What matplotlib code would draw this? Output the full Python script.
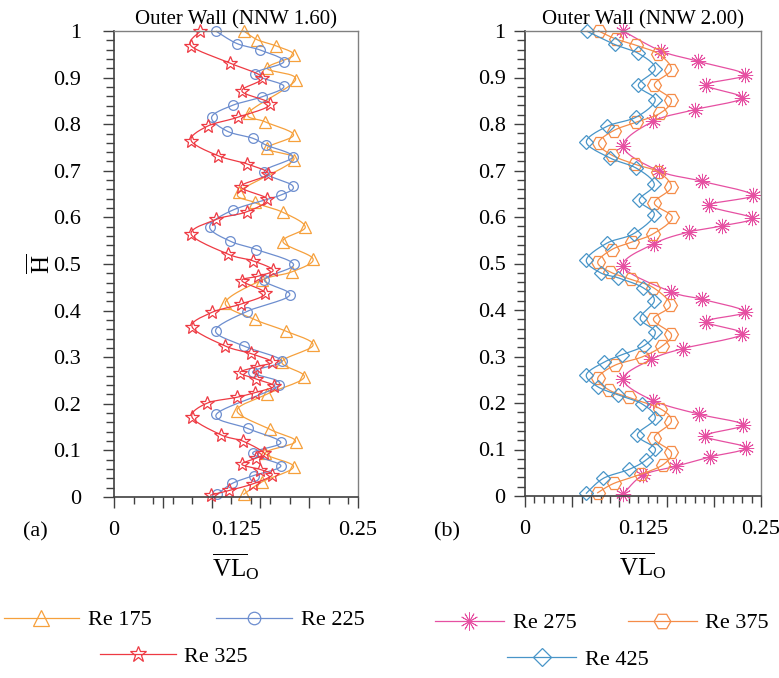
import numpy as np
import matplotlib
matplotlib.use("Agg")
import matplotlib.pyplot as plt
from matplotlib.lines import Line2D
from matplotlib.ticker import MultipleLocator

plt.rcParams["font.family"] = ["Liberation Serif", "DejaVu Serif"]
plt.rcParams["mathtext.fontset"] = "custom"
plt.rcParams["mathtext.rm"] = "Liberation Serif"
plt.rcParams["mathtext.it"] = "Liberation Serif:italic"

# Outer wall profiles, NNW 1.60 (panel a): height H vs velocity VL_O
RE175_H = [1.000, 0.981, 0.968, 0.948, 0.920, 0.895, 0.825, 0.805, 0.777, 0.748, 0.723,
           0.655, 0.632, 0.611, 0.579, 0.548, 0.511, 0.483, 0.466, 0.417, 0.381, 0.356,
           0.326, 0.290, 0.257, 0.221, 0.185, 0.145, 0.119, 0.094, 0.065, 0.033, 0.006]
RE175_V = [0.133, 0.147, 0.166, 0.184, 0.157, 0.186, 0.138, 0.155, 0.184, 0.157, 0.184,
           0.128, 0.144, 0.173, 0.196, 0.173, 0.204, 0.182, 0.152, 0.114, 0.144, 0.176,
           0.204, 0.172, 0.195, 0.157, 0.126, 0.160, 0.186, 0.155, 0.184, 0.152, 0.133]

RE225_H = [0.999, 0.973, 0.959, 0.934, 0.908, 0.882, 0.859, 0.841, 0.815, 0.785, 0.770,
           0.755, 0.730, 0.698, 0.668, 0.648, 0.616, 0.580, 0.549, 0.531, 0.499, 0.466,
           0.433, 0.398, 0.357, 0.324, 0.292, 0.268, 0.240, 0.178, 0.147, 0.117, 0.094,
           0.067, 0.046, 0.029, 0.006]
RE225_V = [0.105, 0.126, 0.150, 0.174, 0.144, 0.174, 0.152, 0.122, 0.100, 0.116, 0.142,
           0.156, 0.183, 0.154, 0.183, 0.171, 0.122, 0.098, 0.119, 0.146, 0.184, 0.154,
           0.180, 0.136, 0.104, 0.133, 0.172, 0.142, 0.169, 0.105, 0.137, 0.171, 0.142,
           0.171, 0.143, 0.121, 0.106]

RE325_H = [0.999, 0.968, 0.931, 0.900, 0.871, 0.843, 0.815, 0.796, 0.765, 0.732, 0.715,
           0.693, 0.666, 0.639, 0.612, 0.596, 0.564, 0.521, 0.507, 0.487, 0.474, 0.464,
           0.437, 0.414, 0.396, 0.365, 0.324, 0.308, 0.290, 0.280, 0.267, 0.253, 0.238,
           0.224, 0.214, 0.201, 0.171, 0.133, 0.120, 0.094, 0.083, 0.070, 0.059, 0.047,
           0.028, 0.014, 0.004]
RE325_V = [0.088, 0.079, 0.119, 0.152, 0.131, 0.160, 0.127, 0.096, 0.079, 0.107, 0.136,
           0.158, 0.130, 0.157, 0.136, 0.105, 0.079, 0.117, 0.142, 0.163, 0.148, 0.131,
           0.155, 0.130, 0.100, 0.080, 0.114, 0.140, 0.162, 0.147, 0.129, 0.146, 0.164,
           0.144, 0.126, 0.095, 0.080, 0.110, 0.132, 0.154, 0.145, 0.131, 0.150, 0.162,
           0.142, 0.118, 0.099]

# Outer wall profiles, NNW 2.00 (panel b)
RE275_H = [1.000, 0.957, 0.935, 0.906, 0.884, 0.856, 0.831, 0.806, 0.752, 0.699, 0.677,
           0.647, 0.625, 0.598, 0.581, 0.568, 0.543, 0.494, 0.439, 0.423, 0.396, 0.375,
           0.348, 0.317, 0.294, 0.251, 0.205, 0.176, 0.153, 0.129, 0.104, 0.084, 0.064,
           0.045, 0.004]
RE275_V = [0.104, 0.144, 0.183, 0.233, 0.192, 0.230, 0.180, 0.136, 0.104, 0.142, 0.187,
           0.241, 0.195, 0.240, 0.209, 0.174, 0.137, 0.104, 0.155, 0.188, 0.233, 0.192,
           0.230, 0.167, 0.134, 0.104, 0.136, 0.184, 0.231, 0.191, 0.234, 0.196, 0.160,
           0.125, 0.104]

RE375_H = [1.000, 0.983, 0.969, 0.951, 0.917, 0.884, 0.852, 0.823, 0.804, 0.786, 0.759,
           0.733, 0.713, 0.697, 0.664, 0.630, 0.599, 0.564, 0.546, 0.530, 0.503, 0.482,
           0.466, 0.448, 0.410, 0.380, 0.348, 0.322, 0.299, 0.281, 0.253, 0.228, 0.212,
           0.188, 0.160, 0.125, 0.094, 0.067, 0.047, 0.027, 0.007]
RE375_V = [0.078, 0.096, 0.118, 0.141, 0.155, 0.137, 0.155, 0.143, 0.118, 0.094, 0.078,
           0.092, 0.117, 0.141, 0.155, 0.137, 0.156, 0.136, 0.113, 0.092, 0.077, 0.090,
           0.112, 0.136, 0.154, 0.136, 0.155, 0.145, 0.124, 0.095, 0.077, 0.089, 0.110,
           0.143, 0.155, 0.137, 0.155, 0.146, 0.123, 0.094, 0.077]

RE425_H = [0.999, 0.971, 0.952, 0.919, 0.883, 0.852, 0.815, 0.795, 0.761, 0.727, 0.705,
           0.670, 0.636, 0.605, 0.564, 0.544, 0.508, 0.480, 0.469, 0.448, 0.420, 0.382,
           0.353, 0.323, 0.304, 0.288, 0.261, 0.235, 0.217, 0.198, 0.167, 0.131, 0.102,
           0.077, 0.057, 0.038, 0.006]
RE425_V = [0.066, 0.095, 0.120, 0.138, 0.120, 0.138, 0.118, 0.087, 0.065, 0.090, 0.118,
           0.137, 0.121, 0.137, 0.115, 0.087, 0.065, 0.080, 0.099, 0.125, 0.137, 0.122,
           0.138, 0.126, 0.103, 0.084, 0.065, 0.077, 0.099, 0.124, 0.138, 0.119, 0.138,
           0.128, 0.110, 0.083, 0.065]

Y_TICKS = [0, 0.1, 0.2, 0.3, 0.4, 0.5, 0.6, 0.7, 0.8, 0.9, 1.0]
Y_TICK_LABELS = ["0", "0.1", "0.2", "0.3", "0.4", "0.5", "0.6", "0.7", "0.8", "0.9", "1"]
X_TICKS = [0, 0.125, 0.25]
X_TICK_LABELS = ["0", "0.125", "0.25"]


def smooth(x, y, n=14):
    """Catmull-Rom curve through the points (like a spreadsheet smoothed line)."""
    pts = np.column_stack([x, y])
    P = np.vstack([pts[0], pts, pts[-1]])
    t = np.linspace(0, 1, n, endpoint=False)[:, None]
    out = []
    for i in range(1, len(P) - 2):
        p0, p1, p2, p3 = P[i - 1], P[i], P[i + 1], P[i + 2]
        seg = 0.5 * (2 * p1 + (-p0 + p2) * t
                     + (2 * p0 - 5 * p1 + 4 * p2 - p3) * t ** 2
                     + (-p0 + 3 * p1 - 3 * p2 + p3) * t ** 3)
        out.append(seg)
    out.append(pts[-1:])
    c = np.vstack(out)
    return c[:, 0], c[:, 1]


def draw_series(ax, v, h, color, marker, ms, mew=0.9, dot=False):
    sx, sy = smooth(v, h)
    ax.plot(sx, sy, color=color, lw=0.9, clip_on=False)
    ax.plot(v, h, ls="none", marker=marker, ms=ms, mfc="none", mec=color, mew=mew,
            clip_on=False)
    if dot:
        ax.plot(v, h, ls="none", marker="o", ms=2.5, color=color, clip_on=False)
    return Line2D([], [], color=color, lw=0.9, marker=marker, ms=ms + 2, mfc="none",
                  mec=color, mew=mew)


def style_axes(ax, x_minor, ylabel_pad):
    ax.set_xlim(0, 0.25)
    ax.set_ylim(0, 1)
    for side in ["left", "bottom"]:
        ax.spines[side].set_color("#404040")
        ax.spines[side].set_linewidth(1.2)
    for side in ["top", "right"]:
        ax.spines[side].set_color("#808080")
        ax.spines[side].set_linewidth(1.0)
    ax.set_yticks(Y_TICKS)
    ax.set_yticklabels(Y_TICK_LABELS)
    ax.yaxis.set_minor_locator(MultipleLocator(0.02))
    ax.tick_params(axis="y", which="major", direction="out", length=8, width=1,
                   color="#404040", labelsize=16, pad=ylabel_pad)
    ax.tick_params(axis="y", which="minor", direction="out", length=6, width=1,
                   color="#404040")
    ax.xaxis.set_major_locator(MultipleLocator(0.05))
    ax.xaxis.set_minor_locator(MultipleLocator(x_minor))
    ax.tick_params(axis="x", which="major", direction="out", length=8, width=1,
                   color="#404040", labelbottom=False)
    ax.tick_params(axis="x", which="minor", direction="out", length=5, width=1,
                   color="#404040")
    sec = ax.secondary_xaxis("bottom")
    sec.set_xticks(X_TICKS)
    sec.set_xticklabels(X_TICK_LABELS)
    sec.tick_params(length=0, labelsize=16, pad=17)
    sec.spines["bottom"].set_visible(False)
    ax.text(0.5, -0.15, r"$\overline{\mathrm{VL}}_{\mathrm{O}}$", transform=ax.transAxes,
            ha="center", va="center", fontsize=18)


fig = plt.figure(figsize=(7.79, 6.78), dpi=100)
ax1 = fig.add_axes([114 / 779, 1 - 497 / 678, 244 / 779, 466 / 678])
ax2 = fig.add_axes([525 / 779, 1 - 496 / 678, 236 / 779, 465 / 678])

# panel (a)
h175 = draw_series(ax1, RE175_V, RE175_H, "#F6A03C", "^", 9)
h225 = draw_series(ax1, RE225_V, RE225_H, "#6D8ECF", "o", 7)
h325 = draw_series(ax1, RE325_V, RE325_H, "#EE3A43", "*", 10)
style_axes(ax1, 0.02, 15.5)
ax1.set_title("Outer Wall (NNW 1.60)", fontsize=15, pad=5)
ax1.text(-0.30, 0.5, r"$\overline{\mathrm{H}}$", transform=ax1.transAxes,
         rotation=90, ha="center", va="center", fontsize=18)

# panel (b)
h275 = draw_series(ax2, RE275_V, RE275_H, "#E650A2", (12, 2, 0), 11, mew=0.6, dot=True)
h375 = draw_series(ax2, RE375_V, RE375_H, "#F58C48", "H", 10)
h425 = draw_series(ax2, RE425_V, RE425_H, "#4895C8", "D", 7)
style_axes(ax2, 0.01, 6)
ax2.set_title("Outer Wall (NNW 2.00)", fontsize=15, pad=5)

fig.text(35 / 779, 1 - 532 / 678, "(a)", ha="center", va="center", fontsize=16)
fig.text(447 / 779, 1 - 532 / 678, "(b)", ha="center", va="center", fontsize=16)

leg_kw = dict(frameon=False, fontsize=16, handletextpad=0.4,
              borderpad=0, borderaxespad=0, loc="center")
fig.legend(handles=[h175, h225], labels=["Re 175", "Re 225"], ncol=2,
           handlelength=3.4, columnspacing=2.9,
           bbox_to_anchor=(184 / 779, 1 - 620 / 678), **leg_kw)
fig.legend(handles=[h325], labels=["Re 325"], handlelength=3.4,
           bbox_to_anchor=(174 / 779, 1 - 657 / 678), **leg_kw)
fig.legend(handles=[h275, h375], labels=["Re 275", "Re 375"], ncol=2,
           handlelength=3.1, columnspacing=2.3,
           bbox_to_anchor=(602 / 779, 1 - 623 / 678), **leg_kw)
fig.legend(handles=[h425], labels=["Re 425"], handlelength=3.1,
           bbox_to_anchor=(578 / 779, 1 - 660 / 678), **leg_kw)

fig.savefig("out.png", dpi=100)
